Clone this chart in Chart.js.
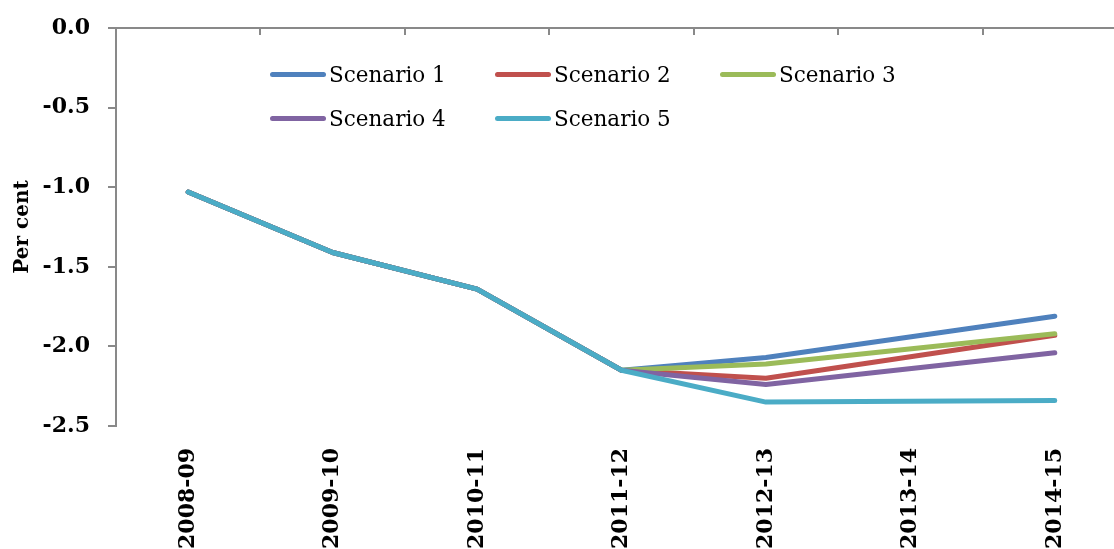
<!DOCTYPE html>
<html>
<head>
<meta charset="utf-8">
<script src="https://cdn.jsdelivr.net/npm/chart.js@4/dist/chart.umd.min.js"></script>
<style>
    html, body { margin: 0; padding: 0; background: #fff; overflow: hidden; }
    #wrap { position: relative; width: 1140px; height: 568px; }
    #legend {
        position: absolute; left: 270px; top: 52px;
        display: grid; grid-template-columns: 225px 225px 225px;
        font-family: "DejaVu Serif", serif; font-size: 21.5px; color: #000;
    }
    .item { display: flex; align-items: center; height: 44px; }
    .swatch { width: 56px; height: 5px; border-radius: 3px; margin-right: 3px; }
</style>
</head>
<body>
<div id="wrap">
    <canvas id="chart"></canvas>
    <div id="legend"></div>
</div>
<script>
const years = ['2008-09', '2009-10', '2010-11', '2011-12', '2012-13', '2013-14', '2014-15'];

const scenario1 = [-1.03, -1.41, -1.64, -2.15, -2.07, null, -1.81];
const scenario2 = [-1.03, -1.41, -1.64, -2.15, -2.20, null, -1.93];
const scenario3 = [-1.03, -1.41, -1.64, -2.15, -2.11, null, -1.92];
const scenario4 = [-1.03, -1.41, -1.64, -2.15, -2.24, null, -2.04];
const scenario5 = [-1.03, -1.41, -1.64, -2.15, -2.35, null, -2.34];

const seriesNames = ['Scenario 1', 'Scenario 2', 'Scenario 3', 'Scenario 4', 'Scenario 5'];
const seriesColors = ['#4F81BD', '#C0504D', '#9BBB59', '#8064A2', '#4BACC6'];
const seriesValues = [scenario1, scenario2, scenario3, scenario4, scenario5];

const axisGray = '#898989';
const serif = '"DejaVu Serif", serif';

const ctx = document.getElementById('chart');

const chart = new Chart(ctx, {
    type: 'line',
    data: {
        labels: years,
        datasets: seriesValues.map((vals, i) => ({
            label: seriesNames[i],
            data: vals,
            borderColor: seriesColors[i],
            backgroundColor: seriesColors[i],
            borderWidth: 5,
            borderCapStyle: 'round',
            borderJoinStyle: 'round',
            pointRadius: 0,
            spanGaps: true,
            tension: 0,
            // later scenarios sit on top, like the original
            order: seriesValues.length - i
        }))
    },
    options: {
        responsive: true,
        maintainAspectRatio: false,
        animation: false,
        layout: { padding: { left: 11, right: 13, top: 28, bottom: 0 } },
        plugins: {
            legend: { display: false },
            tooltip: { enabled: false }
        },
        scales: {
            x: {
                type: 'category',
                position: 'bottom',
                offset: true,
                grid: { display: false },
                border: { display: false },
                ticks: {
                    color: '#000',
                    font: { family: serif, size: 22, weight: 'bold' },
                    maxRotation: 90,
                    minRotation: 90,
                    padding: 14,
                    autoSkip: false
                },
                afterFit: scale => { scale.height = 142; }
            },
            // axis line crossing at 0, ticks hanging down into the plot
            xTop: {
                type: 'category',
                position: { y: 0 },
                labels: years,
                offset: true,
                grid: {
                    offset: true,
                    drawOnChartArea: false,
                    color: axisGray,
                    lineWidth: 2,
                    tickLength: 6
                },
                border: { display: true, color: axisGray, width: 2 },
                ticks: { display: false }
            },
            y: {
                min: -2.5,
                max: 0,
                position: 'left',
                grid: {
                    drawOnChartArea: false,
                    color: axisGray,
                    lineWidth: 2,
                    tickLength: 8
                },
                border: { display: true, color: axisGray, width: 2 },
                ticks: {
                    stepSize: 0.5,
                    color: '#000',
                    padding: 18,
                    font: { family: serif, size: 22, weight: 'bold' },
                    callback: v => v.toFixed(1)
                },
                title: {
                    display: true,
                    text: 'Per cent',
                    color: '#000',
                    font: { family: serif, size: 20, weight: 'bold' },
                    padding: { top: 0, bottom: 4 }
                },
                afterFit: scale => {
                    scale.width = 105;
                    scale.paddingTop = 0;
                    scale.paddingBottom = 0;
                }
            }
        }
    }
});

// legend laid out in a fixed grid like the original
const legendEl = document.getElementById('legend');
chart.data.datasets.forEach(ds => {
    const item = document.createElement('div');
    item.className = 'item';
    const sw = document.createElement('span');
    sw.className = 'swatch';
    sw.style.background = ds.borderColor;
    item.appendChild(sw);
    item.appendChild(document.createTextNode(ds.label));
    legendEl.appendChild(item);
});
</script>
</body>
</html>
